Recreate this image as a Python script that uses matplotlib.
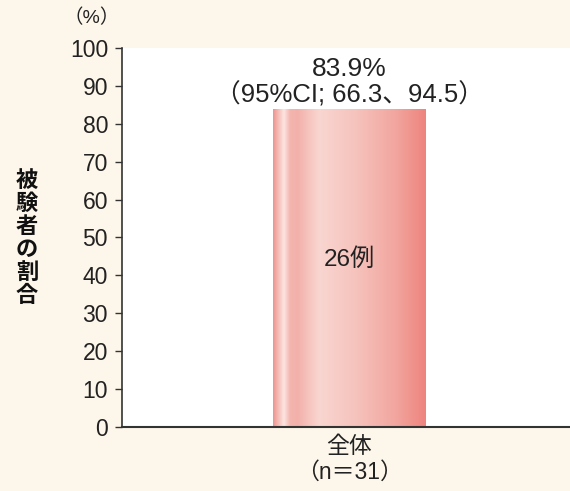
import matplotlib
matplotlib.use("Agg")
import matplotlib.pyplot as plt
import numpy as np
from matplotlib.colors import LinearSegmentedColormap

plt.rcParams['font.family'] = ['Liberation Sans', 'Noto Sans CJK JP', 'DejaVu Sans']

# Data
categories = ["全体\n（n＝31）"]
values = [83.9]
ci_low = [66.3]
ci_high = [94.5]
counts = [26]
yticks = list(range(0, 101, 10))

bg = "#FDF6EA"
fig = plt.figure(figsize=(5.70, 4.91), dpi=100, facecolor=bg)
ax = fig.add_axes([0.214, 0.1303, 0.786, 0.772])
ax.set_facecolor("white")

bar_w = 0.34
xpos = np.arange(len(categories))
bars = ax.bar(xpos, values, width=bar_w, color="none", edgecolor="none", zorder=2)

# Horizontal gradient fill for the bar
stops = [(0.00, "#EE948F"), (0.04, "#F6C4BE"), (0.07, "#FCE6E1"), (0.11, "#F4B5AF"),
         (0.16, "#F3B0AA"), (0.30, "#F9D6D1"), (0.55, "#F6C2BC"), (0.80, "#F2A69F"),
         (1.00, "#EE847E")]
cmap = LinearSegmentedColormap.from_list("barfill", stops)
grad = np.linspace(0, 1, 256).reshape(1, -1)
for rect in bars:
    x0, w, h = rect.get_x(), rect.get_width(), rect.get_height()
    im = ax.imshow(grad, cmap=cmap, aspect="auto", extent=(x0, x0 + w, 0, h),
                   zorder=2, interpolation="bicubic")
    im.set_clip_path(rect)

for x, v, lo, hi, n in zip(xpos, values, ci_low, ci_high, counts):
    ax.text(x, v + 10.6, f"{v:.1f}%", ha="center", va="center", fontsize=19, color="#222222")
    ax.text(x, v + 3.7, f"（95%CI; {lo:.1f}、{hi:.1f}）", ha="center", va="center",
            fontsize=18.5, color="#222222")
    ax.text(x, 44.2, f"{n}例", ha="center", va="center", fontsize=17.5, color="#222222")

ax.set_xlim(-0.507, 0.493)
ax.set_ylim(0, 100)
ax.set_yticks(yticks)
ax.set_yticklabels([str(t) for t in yticks], fontsize=16.5, color="#222222")
ax.set_xticks(xpos)
ax.set_xticklabels(categories, fontsize=16.5, color="#222222", linespacing=1.15)
ax.tick_params(axis="y", length=5, width=1, color="#333333", pad=5)
ax.tick_params(axis="x", length=0, pad=6)

for s in ["top", "right"]:
    ax.spines[s].set_visible(False)
ax.spines["left"].set_color("#333333")
ax.spines["bottom"].set_color("#333333")
ax.spines["left"].set_linewidth(1.2)
ax.spines["bottom"].set_linewidth(1.5)

fig.text(92 / 570, 1 - 18 / 491, "（%）", ha="center", va="center", fontsize=14, color="#222222")
fig.text(27 / 570, 1 - 238 / 491, "\n".join("被験者の割合"), ha="center", va="center",
         fontsize=16, fontweight="bold", color="#111111", linespacing=1.0,
         family=['Noto Sans CJK JP', 'DejaVu Sans'])

fig.savefig("out.png", dpi=100, facecolor=bg)
